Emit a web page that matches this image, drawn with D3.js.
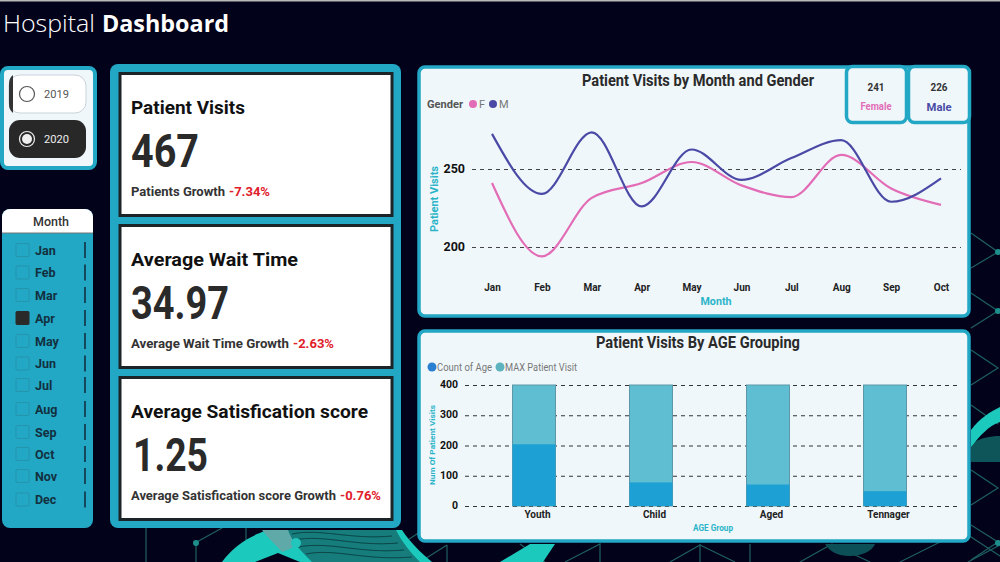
<!DOCTYPE html>
<html>
<head>
<meta charset="utf-8">
<script src="https://cdn.jsdelivr.net/npm/d3@7"></script>
<style>
  html, body { margin: 0; padding: 0; background: #02021a; overflow: hidden; }
  svg { display: block; font-family: Roboto, sans-serif; }
</style>
</head>
<body>
<svg id="dash" width="1000" height="562"></svg>
<script>
// chart values
const months = ["Jan", "Feb", "Mar", "Apr", "May", "Jun", "Jul", "Aug", "Sep", "Oct", "Nov", "Dec"];
const lineMonths = months.slice(0, 10);
const femaleVisits = [241, 194, 231.5, 241, 254.5, 239.5, 232, 259, 237.5, 227];
const maleVisits = [272.5, 234, 273.5, 226, 262.5, 243, 257, 268.5, 229, 244];
const visitTicks = [200, 250];

const ageGroups = ["Youth", "Child", "Aged", "Tennager"];
const countOfAge = [204, 78, 71, 49];
const maxPatientVisit = [400, 400, 400, 400];
const ageTicks = [0, 100, 200, 300, 400];

const years = ["2019", "2020"];
const selectedYear = "2020";
const selectedMonth = "Apr";
const monthRows = [250, 272.5, 295, 318, 341, 363.5, 385, 409, 432, 454, 476, 499.5];

const kpiTitles = ["Patient Visits", "Average Wait Time", "Average Satisfication score"];
const kpiValues = ["467", "34.97", "1.25"];
const kpiNotes = ["Patients Growth", "Average Wait Time Growth", "Average Satisfication score Growth"];
const kpiGrowth = ["-7.34%", "-2.63%", "-0.76%"];

const teal = "#22a7c4";
const panel = "#f0f7fb";
const pink = "#e26cb6";
const blue = "#4a4aa6";
const axisTeal = "#2bb4c8";
const ink = "#2a2a2a";

const svg = d3.select("#dash");

// little helpers
function box(x, y, w, h, r, fill, stroke, sw) {
  return svg.append("rect").attr("x", x).attr("y", y).attr("width", w).attr("height", h)
    .attr("rx", r).attr("fill", fill).attr("stroke", stroke || "none").attr("stroke-width", sw || 0);
}
function label(x, y, txt, size, weight, color, width, anchor) {
  let t = svg.append("text").attr("x", x).attr("y", y).text(txt)
    .attr("font-size", size).attr("font-weight", weight).attr("fill", color)
    .attr("text-anchor", anchor || "start");
  if (width) t.attr("textLength", width).attr("lengthAdjust", "spacingAndGlyphs");
  return t;
}

// background: network lines + teal waves
svg.append("rect").attr("width", 1000).attr("height", 562).attr("fill", "#02021a");
svg.append("rect").attr("width", 1000).attr("height", 1.5).attr("fill", "#b9b9b9");

svg.append("filter").attr("id", "soft").append("feGaussianBlur").attr("stdDeviation", 0.6);

const net = svg.append("g").attr("fill", "none").attr("stroke", "#1f6062").attr("stroke-width", 1.2)
  .attr("filter", "url(#soft)");
[
  "M146 528V562", "M195 543L222 528", "M196 543V562", "M246 528V540",
  "M420 532L400 545", "M447 545L420 562", "M447 545V562",
  "M520 544L545 562", "M565 562L600 544V562", "M700 544V562",
  "M700 545L670 562", "M700 545L735 562", "M750 544V562", "M800 562L832 544", "M832 544L870 562",
  "M900 562L968 528", "M968 535L1000 556", "M1000 545L968 562",
  "M971 233L998 252L971 268", "M971 293L998 311L971 328", "M971 350L998 368L971 385",
  "M971 405L998 424", "M971 470L998 488L971 505", "M971 525L998 542L971 560"
].forEach((d) => net.append("path").attr("d", d));

const wave = svg.append("g").attr("filter", "url(#soft)");
// main blob at the bottom
wave.append("path").attr("fill", "#1fc9bd")
  .attr("d", "M222 562C232 548 248 536 268 530H402C410 542 420 552 432 562H300L278 553L255 562Z");
wave.append("path").attr("fill", "#5fa9a9").attr("d", "M262 530H292V548L282 552C276 545 268 538 262 530Z");
wave.append("path").attr("fill", "#147c7c")
  .attr("d", "M288 530H396C402 542 410 552 420 562H312C302 552 292 542 288 530Z");
wave.append("path").attr("fill", "none").attr("stroke", "#0a4648").attr("stroke-width", 1)
  .attr("d", "M292 534C320 528 350 540 392 536M294 540C325 534 355 547 398 543M298 547C330 541 360 554 404 550M306 554C335 548 365 561 412 557");
wave.append("circle").attr("cx", 296).attr("cy", 543).attr("r", 5).attr("fill", "#23c6bc");
wave.append("circle").attr("cx", 196).attr("cy", 543).attr("r", 3).attr("fill", "#1c8f8c");
wave.append("path").attr("fill", "#1fc9bd").attr("d", "M500 562L530 544H555L543 562Z");
wave.append("path").attr("fill", "#0e5056").attr("d", "M825 544H875C872 552 860 556 850 556C838 556 830 552 825 544Z");
wave.append("path").attr("fill", "#0d5458").attr("d", "M971 444C980 438 990 436 1000 436V462H971Z");
wave.append("path").attr("fill", "#1fc9bd").attr("d", "M971 430C980 418 990 412 1000 407V422C988 426 980 436 971 447Z");
wave.append("circle").attr("cx", 998).attr("cy", 252).attr("r", 3).attr("fill", "#1c8f8c");
wave.append("circle").attr("cx", 998).attr("cy", 311).attr("r", 3).attr("fill", "#1c8f8c");
wave.append("circle").attr("cx", 998).attr("cy", 543).attr("r", 3).attr("fill", "#1c8f8c");

// page title
label(3, 32, "Hospital", 24, 300, "#ffffff", 92).attr("font-family", "'Open Sans'");
label(102, 32, "Dashboard", 24, 700, "#ffffff", 127).attr("font-family", "'Open Sans'");

// year slicer
box(2, 68, 93, 100, 6, panel, teal, 4);
years.forEach((y, i) => {
  let top = 75 + i * 45;
  let on = y === selectedYear;
  if (on) {
    box(9, top, 77, 38, 11, "#282828");
  } else {
    box(9, top, 77, 38, 11, "#ffffff", "#c9d2da", 1);
    svg.append("path").attr("fill", "#333")
      .attr("d", `M13 ${top}A11 11 0 0 0 9 ${top + 9}V${top + 29}A11 11 0 0 0 13 ${top + 38}Z`);
  }
  let c = on ? "#eeeeee" : "#555555";
  svg.append("circle").attr("cx", 27).attr("cy", top + 19).attr("r", 7.5)
    .attr("fill", "none").attr("stroke", c).attr("stroke-width", 1.2);
  if (on) svg.append("circle").attr("cx", 27).attr("cy", top + 19).attr("r", 5).attr("fill", "#eeeeee");
  label(44, top + 23, y, 11.5, 400, c, 25);
});

// month slicer
box(2, 209, 91, 319, 8, teal);
svg.append("path").attr("fill", "#ffffff").attr("d", "M2 233V217A8 8 0 0 1 10 209H85A8 8 0 0 1 93 217V233Z");
svg.append("line").attr("x1", 2).attr("x2", 93).attr("y1", 233).attr("y2", 233).attr("stroke", "#777");
label(51, 226, "Month", 12.5, 500, "#333", 36, "middle");
months.forEach((m, i) => {
  let y = monthRows[i];
  let on = m === selectedMonth;
  box(16, y - 6.5, 13, 13, 1, on ? "#2a2a2a" : "none", on ? "#2a2a2a" : "#2594ad", 1);
  label(35, y + 4.5, m, 12.5, 700, "#12303f");
  svg.append("line").attr("x1", 85).attr("x2", 85).attr("y1", y - 8).attr("y2", y + 8)
    .attr("stroke", "#12303f").attr("stroke-width", 1.6);
});

// KPI cards
box(110, 64, 291, 464, 8, teal);
const cardTops = [72, 224, 376];
const titleWidths = [114, 167, 237];
const valueWidths = [68, 98, 75];
const valueStarts = [131, 131, 133];
const noteWidths = [94, 158, 205];
const growthStarts = [229, 293, 340];
kpiTitles.forEach((t, i) => {
  let top = cardTops[i];
  box(120, top + 1.5, 272, 142, 0, "#ffffff", "#1c2428", 3);
  label(131, top + 42, t, 19, 700, "#111111", titleWidths[i]);
  label(valueStarts[i], top + 95, kpiValues[i], 47, 700, ink, valueWidths[i]);
  label(131, top + 124, kpiNotes[i], 12.5, 700, "#333333", noteWidths[i]);
  label(growthStarts[i], top + 124, kpiGrowth[i], 12.5, 700, "#e0202a", 41);
});

// line chart panel
box(419, 67, 550, 249, 6, panel, teal, 3.5);
label(698, 86, "Patient Visits by Month and Gender", 16, 700, ink, 232, "middle");
label(427, 108, "Gender", 11, 700, "#555", 36);
svg.append("circle").attr("cx", 473).attr("cy", 104).attr("r", 4).attr("fill", pink);
label(479, 108, "F", 11, 400, "#777");
svg.append("circle").attr("cx", 493).attr("cy", 104).attr("r", 4).attr("fill", blue);
label(499, 108, "M", 11, 400, "#777");

const xMonth = d3.scalePoint().domain(lineMonths).range([492, 941]);
const yVisits = d3.scaleLinear().domain([200, 250]).range([247, 169]);

const yAxisLine = svg.append("g").attr("transform", "translate(472,0)")
  .call(d3.axisLeft(yVisits).tickValues(visitTicks).tickSize(-489).tickPadding(7));
yAxisLine.select(".domain").remove();
yAxisLine.selectAll("line").attr("stroke", "#444").attr("stroke-dasharray", "4 4");
yAxisLine.selectAll("text").attr("font-size", 12.5).attr("font-weight", 700)
  .attr("font-family", "Roboto").attr("fill", "#111").attr("dy", "0.25em");

const xAxisLine = svg.append("g").attr("transform", "translate(0,284)")
  .call(d3.axisBottom(xMonth).tickSize(0).tickPadding(0));
xAxisLine.select(".domain").remove();
xAxisLine.selectAll("text").attr("font-size", 10).attr("font-weight", 700)
  .attr("font-family", "Roboto").attr("fill", "#222");

const visitLine = d3.line()
  .x((d, i) => xMonth(lineMonths[i]))
  .y((d) => yVisits(d))
  .curve(d3.curveMonotoneX);
svg.append("path").datum(femaleVisits).attr("d", visitLine)
  .attr("fill", "none").attr("stroke", pink).attr("stroke-width", 2.2);
svg.append("path").datum(maleVisits).attr("d", visitLine)
  .attr("fill", "none").attr("stroke", blue).attr("stroke-width", 2.2);

label(716, 305, "Month", 11, 700, axisTeal, 31, "middle");
label(0, 0, "Patient Visits", 11, 700, axisTeal, 66, "middle")
  .attr("transform", "translate(438,199) rotate(-90)");

// gender totals
box(846.5, 66.5, 60, 56, 6, panel, teal, 3.5);
box(908.5, 66.5, 61, 56, 6, panel, teal, 3.5);
label(876, 91, "241", 11, 700, "#333", 17, "middle");
label(876, 110, "Female", 10, 700, pink, 31, "middle");
label(939, 91, "226", 11, 700, "#333", 17, "middle");
label(939, 111, "Male", 11, 700, blue, 25, "middle");

// bar chart panel
box(419, 331, 550, 210, 6, panel, teal, 3.5);
label(698, 348, "Patient Visits By AGE Grouping", 16, 700, ink, 204, "middle");
svg.append("circle").attr("cx", 432).attr("cy", 367).attr("r", 4.5).attr("fill", "#2b7fd0");
label(437, 371, "Count of Age", 10, 400, "#777", 55);
svg.append("circle").attr("cx", 500).attr("cy", 367).attr("r", 4.5).attr("fill", "#5db4bf");
label(505, 371, "MAX Patient Visit", 10, 400, "#777", 72);

const xAge = d3.scaleBand().domain(ageGroups).range([475.5, 943.5]).paddingInner(0.633).paddingOuter(0.3165);
const yAge = d3.scaleLinear().domain([0, 400]).range([506, 385]);

const yAxisBar = svg.append("g").attr("transform", "translate(465,0)")
  .call(d3.axisLeft(yAge).tickValues(ageTicks).tickSize(-496).tickPadding(7));
yAxisBar.select(".domain").remove();
yAxisBar.selectAll("line").attr("stroke", "#333").attr("stroke-dasharray", "4 4");
yAxisBar.selectAll("text").attr("font-size", 10.5).attr("font-weight", 700)
  .attr("font-family", "Roboto").attr("fill", "#111").attr("dy", "0.25em");

svg.append("g").selectAll("rect").data(maxPatientVisit).join("rect")
  .attr("x", (d, i) => xAge(ageGroups[i])).attr("width", xAge.bandwidth())
  .attr("y", (d) => yAge(d)).attr("height", (d) => yAge(0) - yAge(d))
  .attr("fill", "#60bed3").attr("stroke", "#5b97a4").attr("stroke-width", 1);
svg.append("g").selectAll("rect").data(countOfAge).join("rect")
  .attr("x", (d, i) => xAge(ageGroups[i])).attr("width", xAge.bandwidth())
  .attr("y", (d) => yAge(d)).attr("height", (d) => yAge(0) - yAge(d))
  .attr("fill", "#1da0d3");

const xAxisBar = svg.append("g").attr("transform", "translate(3.5,511)")
  .call(d3.axisBottom(xAge).tickSize(0).tickPadding(0));
xAxisBar.select(".domain").remove();
xAxisBar.selectAll("text").attr("font-size", 10).attr("font-weight", 700)
  .attr("font-family", "Roboto").attr("fill", "#222");

label(713, 531, "AGE Group", 9, 700, axisTeal, 40, "middle");
label(0, 0, "Num Of Patient Visits", 8, 700, axisTeal, 80, "middle")
  .attr("transform", "translate(435,445) rotate(-90)");
</script>
</body>
</html>
